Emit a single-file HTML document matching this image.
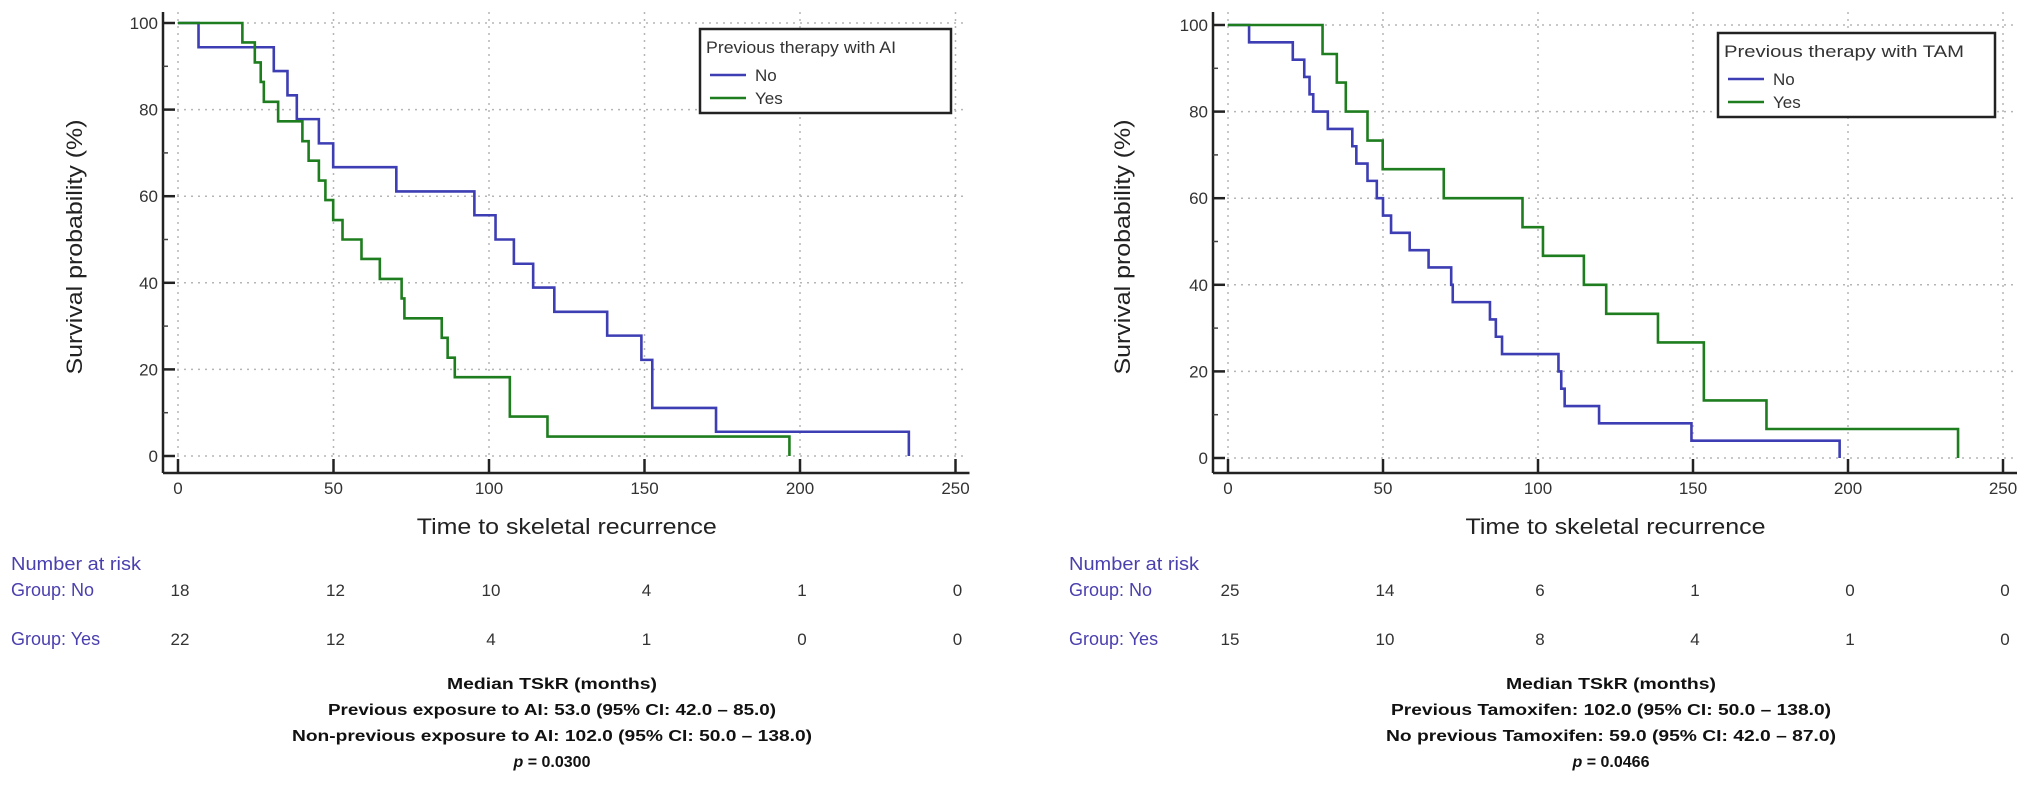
<!DOCTYPE html>
<html><head><meta charset="utf-8"><style>
html,body{margin:0;padding:0;background:#fff;}
svg{display:block;font-family:"Liberation Sans",sans-serif;}
</style></head><body>
<svg id="chart" width="2031" height="785" viewBox="0 0 2031 785" xmlns="http://www.w3.org/2000/svg"></svg>
<script>
// ---- data ----
const xTicks = [0, 50, 100, 150, 200, 250];
const yTicks = [0, 20, 40, 60, 80, 100];
const leftNoT = [0, 6.6, 30.8, 35.2, 38.2, 45.3, 49.9, 70.2, 95.3, 102.1, 108, 114.2, 121, 138, 149, 152.5, 173, 235];
const leftNoS = [100, 94.4, 88.9, 83.3, 77.8, 72.2, 66.7, 61.1, 55.6, 50, 44.4, 38.9, 33.3, 27.8, 22.2, 11.1, 5.6, 0];
const leftYesT = [0, 20.7, 24.7, 26.6, 27.6, 32.2, 40, 42, 45.3, 47.4, 49.9, 52.9, 59, 64.9, 71.9, 72.8, 84.8, 86.7, 89, 106.7, 118.8, 196.6];
const leftYesS = [100, 95.5, 90.9, 86.4, 81.8, 77.3, 72.7, 68.2, 63.6, 59.1, 54.5, 50, 45.5, 40.9, 36.4, 31.8, 27.3, 22.7, 18.2, 9.1, 4.5, 0];
const rightNoT = [0, 6.8, 20.9, 24.6, 26.3, 27.5, 32.2, 40.1, 41.4, 45, 48, 50, 52.6, 58.6, 64.7, 72, 72.5, 84.5, 86.4, 88.4, 106.6, 107.5, 108.6, 119.7, 149.5, 197.3];
const rightNoS = [100, 96, 92, 88, 84, 80, 76, 72, 68, 64, 60, 56, 52, 48, 44, 40, 36, 32, 28, 24, 20, 16, 12, 8, 4, 0];
const rightYesT = [0, 30.5, 35.1, 38, 45, 49.9, 69.6, 95, 101.6, 114.8, 122, 138.7, 153.5, 173.7, 235.5];
const rightYesS = [100, 93.3, 86.7, 80, 73.3, 66.7, 60, 53.3, 46.7, 40, 33.3, 26.7, 13.3, 6.7, 0];
const leftRiskNo = [18, 12, 10, 4, 1, 0];
const leftRiskYes = [22, 12, 4, 1, 0, 0];
const rightRiskNo = [25, 14, 6, 1, 0, 0];
const rightRiskYes = [15, 10, 8, 4, 1, 0];

const NS = "http://www.w3.org/2000/svg";
const svg = document.getElementById('chart');
function mk(tag, attrs, parent, text) {
  const e = document.createElementNS(NS, tag);
  for (const k in attrs) e.setAttribute(k, attrs[k]);
  if (text !== undefined) e.textContent = text;
  (parent || svg).appendChild(e);
  return e;
}
const BLUE = "#3d3db4", GREEN = "#1e7d1e", RISK = "#4a3fae";

function panel(cfg) {
  const g = mk('g', {});
  
  
  const x = t => cfg.x0 + t * cfg.kx;
  const y = s => cfg.y0 - s * cfg.ky;
  const xEnd = x(250), top = 12, axY = 473, axX = cfg.x0 - 15;
  // grid
  yTicks.forEach(v => {
    const l = mk('line', {x1: axX, x2: xEnd + 12, y1: y(v), y2: y(v), stroke: '#b5b5b5', 'stroke-width': 1.5, 'stroke-dasharray': '2 5'}, g);
    
    
  });
  xTicks.forEach(v => {
    const l = mk('line', {x1: x(v), x2: x(v), y1: top, y2: axY, stroke: '#b5b5b5', 'stroke-width': 1.5, 'stroke-dasharray': '2 5'}, g);
    
    
  });
  // axes
  const ya = mk('line', {x1: axX, x2: axX, y1: top, y2: axY, stroke: '#222', 'stroke-width': 2.5}, g);
  
  
  const xa = mk('line', {x1: axX, x2: xEnd + 14, y1: axY, y2: axY, stroke: '#222', 'stroke-width': 2.5}, g);
  
  
  yTicks.forEach(v => {
    mk('line', {x1: axX, x2: axX + 12, y1: y(v), y2: y(v), stroke: '#222', 'stroke-width': 2.5}, g);
    const t = mk('text', {x: axX - 5, y: y(v) + 6, 'text-anchor': 'end', 'font-size': 17, fill: '#333'}, g, String(v));
    
    
    if (v < 100) mk('line', {x1: axX, x2: axX + 5, y1: y(v + 10), y2: y(v + 10), stroke: '#444', 'stroke-width': 1.5}, g);
  });
  xTicks.forEach(v => {
    mk('line', {x1: x(v), x2: x(v), y1: axY, y2: axY - 14, stroke: '#222', 'stroke-width': 2.5}, g);
    const t = mk('text', {x: x(v), y: 494, 'text-anchor': 'middle', 'font-size': 17, fill: '#333'}, g, String(v));
    
    
  });
  const xt = mk('text', {x: x(125), y: 534, 'text-anchor': 'middle', 'font-size': 22, fill: '#222', textLength: 300, lengthAdjust: 'spacingAndGlyphs'}, g, 'Time to skeletal recurrence');
  
  
  const yt = mk('text', {x: 0, y: 0, 'text-anchor': 'middle', 'font-size': 22, fill: '#222', transform: `translate(${cfg.ytx},247) rotate(-90)`, textLength: 255, lengthAdjust: 'spacingAndGlyphs'}, g, 'Survival probability (%)');
  
  
  // curves
  function curve(T, S, color, nm) {
    let d = `M${x(T[0])},${y(S[0])}`;
    for (let i = 1; i < T.length; i++) d += ` H${x(T[i])} V${y(S[i])}`;
    const p = mk('path', {d: d, fill: 'none', stroke: color, 'stroke-width': 2.6}, g);
    
    
  }
  curve(cfg.noT, cfg.noS, BLUE, 'curve-no');
  curve(cfg.yesT, cfg.yesS, GREEN, 'curve-yes');
  // legend
  const lg = mk('g', {}, g);
  
  
  const L = cfg.leg;
  mk('rect', {x: L.x, y: L.y, width: L.w, height: L.h, fill: '#fff', stroke: '#222', 'stroke-width': 2.5}, lg);
  mk('text', {x: L.x + 6, y: L.y + 24, 'font-size': 17, fill: '#333', textLength: L.tl, lengthAdjust: 'spacingAndGlyphs'}, lg, L.title);
  const e1 = mk('g', {}, lg);
  
  
  mk('line', {x1: L.x + 10, x2: L.x + 46, y1: L.y + 46, y2: L.y + 46, stroke: BLUE, 'stroke-width': 2.6}, e1);
  mk('text', {x: L.x + 55, y: L.y + 52, 'font-size': 17, fill: '#333'}, e1, 'No');
  const e2 = mk('g', {}, lg);
  
  
  mk('line', {x1: L.x + 10, x2: L.x + 46, y1: L.y + 69, y2: L.y + 69, stroke: GREEN, 'stroke-width': 2.6}, e2);
  mk('text', {x: L.x + 55, y: L.y + 75, 'font-size': 17, fill: '#333'}, e2, 'Yes');
  // risk table
  const rt = mk('g', {}, g);
  
  
  mk('text', {x: cfg.rx, y: 570, 'font-size': 18, fill: RISK, textLength: 130, lengthAdjust: 'spacingAndGlyphs'}, rt, 'Number at risk');
  mk('text', {x: cfg.rx, y: 596, 'font-size': 18, fill: RISK}, rt, 'Group: No');
  mk('text', {x: cfg.rx, y: 645, 'font-size': 18, fill: RISK}, rt, 'Group: Yes');
  xTicks.forEach((v, i) => {
    mk('text', {x: x(v) + 2, y: 596, 'text-anchor': 'middle', 'font-size': 17, fill: '#333'}, rt, String(cfg.riskNo[i]));
    mk('text', {x: x(v) + 2, y: 645, 'text-anchor': 'middle', 'font-size': 17, fill: '#333'}, rt, String(cfg.riskYes[i]));
  });
  // median text
  const mt = mk('g', {'font-weight': 'bold', 'font-size': 16, fill: '#111', 'text-anchor': 'middle'}, g);
  
  
  cfg.med.forEach((m, i) => {
    mk('text', {x: cfg.mx, y: 689 + i * 26, textLength: m[1], lengthAdjust: 'spacingAndGlyphs'}, mt, m[0]);
  });
  const pt = mk('text', {x: cfg.mx, y: 767}, mt);
  mk('tspan', {'font-style': 'italic'}, pt, 'p');
  mk('tspan', {}, pt, ' = ' + cfg.p);
}

panel({name: 'left-panel-ai', x0: 178, kx: 3.11, y0: 456, ky: 4.33, ytx: 82,
  noT: leftNoT, noS: leftNoS, yesT: leftYesT, yesS: leftYesS,
  leg: {x: 700, y: 29, w: 251, h: 84, title: 'Previous therapy with AI', tl: 190},
  rx: 11, riskNo: leftRiskNo, riskYes: leftRiskYes, mx: 552,
  med: [['Median TSkR (months)', 210], ['Previous exposure to AI: 53.0 (95% CI: 42.0 \u2013 85.0)', 448], ['Non-previous exposure to AI: 102.0 (95% CI: 50.0 \u2013 138.0)', 520]],
  p: '0.0300'});
panel({name: 'right-panel-tam', x0: 1228, kx: 3.1, y0: 458, ky: 4.33, ytx: 1130,
  noT: rightNoT, noS: rightNoS, yesT: rightYesT, yesS: rightYesS,
  leg: {x: 1718, y: 33, w: 277, h: 84, title: 'Previous  therapy with TAM', tl: 240},
  rx: 1069, riskNo: rightRiskNo, riskYes: rightRiskYes, mx: 1611,
  med: [['Median TSkR (months)', 210], ['Previous Tamoxifen: 102.0 (95% CI: 50.0 \u2013 138.0)', 440], ['No previous Tamoxifen: 59.0 (95% CI: 42.0 \u2013 87.0)', 450]],
  p: '0.0466'});
</script>
</body></html>
